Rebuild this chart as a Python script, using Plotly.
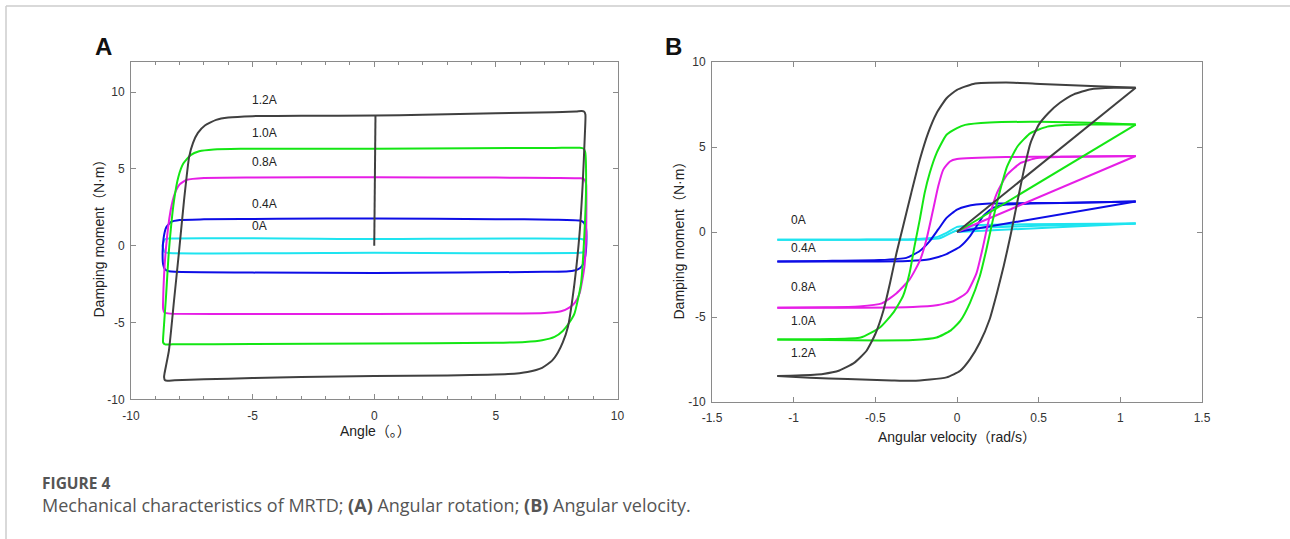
import plotly.graph_objects as go

W, H = 1290, 539

# ---------------- Panel A: angle vs damping moment ----------------
# 1.2 A: initial loading stroke (origin -> top) and the loop
a_x_12_start = [0, 0.05]
a_y_12_start = [0, 8.48]
a_x_12 = [0.05, 2, 5, 7.4, 8.3, 8.52, 8.62, 8.68, 8.66, 8.57, 8.44, 8.23, 7.96, 7.75, 7.55, 7.3, 6.9, 6.3, 5.5, 3, 0, -3, -5, -7, -8.2, -8.5, -8.6, -8.64, -8.62, -8.44, -8.23, -8.02, -7.82, -7.61, -7.45, -7.25, -6.95, -6.5, -6.0, -5, -3, 0.05]
a_y_12 = [8.48, 8.53, 8.63, 8.7, 8.74, 8.77, 8.74, 8.55, 7.31, 4.05, 0.79, -2.46, -5.29, -6.3, -6.95, -7.5, -7.95, -8.22, -8.36, -8.45, -8.48, -8.55, -8.62, -8.7, -8.76, -8.79, -8.76, -8.55, -8.3, -6.81, -3.55, -0.29, 2.96, 5.79, 6.7, 7.35, 7.85, 8.2, 8.35, 8.44, 8.47, 8.48]

a_x_10 = [0, 4, 7.41, 8.45, 8.6, 8.67, 8.71, 8.64, 8.5, 8.23, 8.0, 7.75, 7.41, 6.9, 6.2, 5, 0, -5, -8.3, -8.6, -8.68, -8.68, -8.57, -8.44, -8.23, -8.05, -7.85, -7.55, -7.2, -6.6, -5.5, 0]
a_y_10 = [6.32, 6.35, 6.37, 6.38, 6.33, 6.11, 4.05, 0.79, -2.46, -4.42, -5.05, -5.55, -5.94, -6.16, -6.27, -6.32, -6.36, -6.4, -6.42, -6.42, -6.3, -6.0, -3.55, -0.29, 2.96, 4.5, 5.35, 5.9, 6.15, 6.27, 6.31, 6.32]

a_x_08 = [0, 5, 7.41, 8.5, 8.65, 8.71, 8.71, 8.64, 8.44, 8.25, 8.0, 7.68, 7.0, 5, 0, -5, -8.4, -8.62, -8.68, -8.68, -8.57, -8.37, -8.2, -8.0, -7.7, -7.0, -5, 0]
a_y_08 = [4.46, 4.44, 4.42, 4.39, 4.3, 4.0, 0.79, -1.38, -3.11, -3.7, -4.05, -4.27, -4.38, -4.42, -4.44, -4.44, -4.42, -4.35, -4.1, -3.55, -0.29, 2.31, 3.4, 4.0, 4.3, 4.42, 4.45, 4.46]

a_x_04 = [0, 5, 7.41, 8.45, 8.62, 8.7, 8.72, 8.66, 8.55, 8.35, 8.0, 7.0, 0, -5, -8.2, -8.44, -8.6, -8.68, -8.7, -8.66, -8.55, -8.35, -8.0, -7.0, -4, 0]
a_y_04 = [1.77, 1.73, 1.7, 1.64, 1.5, 1.2, 0.14, -0.8, -1.3, -1.55, -1.66, -1.7, -1.77, -1.75, -1.7, -1.66, -1.55, -1.2, -0.4, 0.5, 1.2, 1.55, 1.68, 1.72, 1.76, 1.77]

a_x_00 = [0, 8.45, 8.62, 8.7, 8.62, 8.45, 0, -8.45, -8.62, -8.7, -8.62, -8.45, 0]
a_y_00 = [0.44, 0.45, 0.38, 0, -0.4, -0.46, -0.46, -0.47, -0.4, 0, 0.4, 0.47, 0.44]

# ---------------- Panel B: angular velocity vs damping moment ----------------
# each current: initial loading line (origin -> tip), upper (unloading) branch, lower branch
b_diag_x = [0, 1.094]
b_tip_12, b_tip_10, b_tip_08, b_tip_04, b_tip_00 = 8.49, 6.32, 4.47, 1.8, 0.5

b_up_x_12 = [1.094, 0.82, 0.51, 0.3, 0.1, 0, -0.064, -0.125, -0.177, -0.228, -0.28, -0.33, -0.37, -0.41, -0.45, -0.5, -0.555, -0.63, -0.72, -0.82, -0.98, -1.1]
b_up_y_12 = [8.49, 8.59, 8.71, 8.79, 8.71, 8.36, 7.87, 6.99, 5.82, 4.25, 2.3, 0.34, -1.22, -3.0, -4.6, -6.0, -7.0, -7.7, -8.15, -8.35, -8.44, -8.47]
b_lo_x_12 = [-1.1, -0.9, -0.67, -0.4, -0.27, -0.064, 0.02, 0.08, 0.14, 0.2, 0.245, 0.286, 0.327, 0.368, 0.41, 0.45, 0.5, 0.56, 0.63, 0.715, 0.82, 0.96, 1.094]
b_lo_y_12 = [-8.47, -8.57, -8.65, -8.73, -8.75, -8.55, -8.16, -7.48, -6.5, -5.13, -3.57, -2.0, -0.24, 1.71, 3.67, 5.23, 6.3, 7.0, 7.6, 8.1, 8.4, 8.48, 8.49]

b_up_x_10 = [1.094, 0.82, 0.51, 0.2, 0.05, 0, -0.064, -0.125, -0.167, -0.198, -0.228, -0.26, -0.29, -0.33, -0.39, -0.47, -0.59, -0.77, -1.1]
b_up_y_10 = [6.32, 6.42, 6.48, 6.44, 6.3, 6.11, 5.72, 4.64, 3.47, 2.3, 0.73, -0.83, -2.4, -3.76, -4.74, -5.6, -6.21, -6.3, -6.32]
b_lo_x_10 = [-1.1, -0.8, -0.47, -0.27, -0.125, -0.043, 0.02, 0.08, 0.14, 0.18, 0.22, 0.265, 0.307, 0.37, 0.45, 0.553, 0.636, 0.78, 1.094]
b_lo_y_10 = [-6.32, -6.36, -6.38, -6.36, -6.21, -5.82, -5.23, -4.15, -2.59, -1.03, 0.73, 2.49, 3.86, 5.03, 5.82, 6.2, 6.28, 6.32, 6.32]

b_up_x_08 = [1.094, 0.636, 0.3, 0, -0.043, -0.084, -0.115, -0.146, -0.187, -0.228, -0.29, -0.37, -0.46, -0.6, -0.8, -1.1]
b_up_y_08 = [4.47, 4.43, 4.41, 4.29, 4.15, 3.67, 2.69, 1.32, -0.44, -1.7, -2.79, -3.6, -4.2, -4.38, -4.43, -4.45]
b_lo_x_08 = [-1.1, -0.6, -0.27, -0.125, -0.02, 0.06, 0.12, 0.16, 0.2, 0.245, 0.307, 0.39, 0.49, 0.636, 1.094]
b_lo_y_08 = [-4.45, -4.45, -4.41, -4.31, -4.06, -3.57, -2.4, -0.83, 0.93, 2.3, 3.37, 4.06, 4.35, 4.42, 4.47]

b_up_x_04 = [1.094, 0.636, 0.2, 0.06, 0, -0.064, -0.115, -0.167, -0.228, -0.31, -0.475, -0.8, -1.1]
b_up_y_04 = [1.8, 1.71, 1.67, 1.52, 1.32, 0.83, 0.15, -0.54, -1.12, -1.52, -1.65, -1.7, -1.73]
b_lo_x_04 = [-1.1, -0.6, -0.3, -0.167, -0.064, 0.02, 0.08, 0.12, 0.16, 0.22, 0.3, 0.45, 0.636, 1.094]
b_lo_y_04 = [-1.73, -1.73, -1.7, -1.6, -1.3, -0.85, -0.24, 0.34, 0.93, 1.42, 1.61, 1.67, 1.71, 1.8]

b_up_x_00 = [1.094, 0.636, 0.2, 0.05, 0, -0.064, -0.125, -0.27, -0.6, -1.1]
b_up_y_00 = [0.5, 0.47, 0.42, 0.36, 0.3, -0.05, -0.3, -0.42, -0.45, -0.46]
b_lo_x_00 = [-1.1, -0.6, -0.2, -0.1, 0, 0.14, 0.35, 0.636, 1.094]
b_lo_y_00 = [-0.46, -0.46, -0.44, -0.35, 0.1, 0.25, 0.32, 0.4, 0.5]

labels = ["0A", "0.4A", "0.8A", "1.0A", "1.2A"]
colors = ["#1ee4f0", "#0d0de6", "#e61ee6", "#14e614", "#404040"]

a_label_x = [-5.1, -5.1, -5.1, -5.1, -5.1]
a_label_y = [1.27, 2.75, 5.44, 7.32, 9.48]
b_label_x = [-1.03, -1.03, -1.03, -1.03, -1.03]
b_label_y = [0.73, -0.97, -3.26, -5.25, -7.13]

a_loops = [(a_x_00, a_y_00), (a_x_04, a_y_04), (a_x_08, a_y_08), (a_x_10, a_y_10), (a_x_12, a_y_12)]
b_tips = [b_tip_00, b_tip_04, b_tip_08, b_tip_10, b_tip_12]
b_upper = [(b_up_x_00, b_up_y_00), (b_up_x_04, b_up_y_04), (b_up_x_08, b_up_y_08), (b_up_x_10, b_up_y_10), (b_up_x_12, b_up_y_12)]
b_lower = [(b_lo_x_00, b_lo_y_00), (b_lo_x_04, b_lo_y_04), (b_lo_x_08, b_lo_y_08), (b_lo_x_10, b_lo_y_10), (b_lo_x_12, b_lo_y_12)]

a_xticks = [-10, -5, 0, 5, 10]
a_xminor = [-9, -8, -7, -6, -4, -3, -2, -1, 1, 2, 3, 4, 6, 7, 8, 9]
a_yticks = [-10, -5, 0, 5, 10]
b_xticks = [-1.5, -1, -0.5, 0, 0.5, 1, 1.5]
b_yticks = [-10, -5, 0, 5, 10]

FONT = "Liberation Sans, Arial, Noto Sans CJK SC, sans-serif"
CAP_FONT = "Open Sans, Lato, sans-serif"

fig = go.Figure()


def add_line(xs, ys, color, xa, ya, spline=True):
    fig.add_trace(go.Scatter(
        x=xs, y=ys, mode="lines", xaxis=xa, yaxis=ya, showlegend=False, hoverinfo="skip",
        line=dict(color=color, width=2, shape="spline" if spline else "linear", smoothing=0.5)))


for (xs, ys), c in zip(a_loops, colors):
    add_line(xs, ys, c, "x", "y")
add_line(a_x_12_start, a_y_12_start, colors[4], "x", "y", spline=False)

for tip, (ux, uy), (lx, ly), c in zip(b_tips, b_upper, b_lower, colors):
    add_line(b_diag_x, [0, tip], c, "x2", "y2", spline=False)
    add_line(ux, uy, c, "x2", "y2")
    add_line(lx, ly, c, "x2", "y2")


def tick_text(vals):
    return [("%g" % v) for v in vals]


axis_common = dict(showgrid=False, zeroline=False, showline=True, linecolor="#8a8a8a", linewidth=1,
                   mirror="ticks", ticks="inside", ticklen=5, tickcolor="#8a8a8a", tickwidth=1,
                   automargin=False, fixedrange=True,
                   tickfont=dict(family=FONT, size=12, color="#333333"))

fig.update_layout(
    template="none",
    width=W, height=H,
    margin=dict(l=0, r=0, t=0, b=0, pad=0, autoexpand=False),
    paper_bgcolor="white", plot_bgcolor="white",
    xaxis=dict(domain=[131 / W, 617.5 / W], range=[-10, 10], anchor="y",
               tickvals=a_xticks, ticktext=tick_text(a_xticks), ticklabelstandoff=5,
               minor=dict(tickvals=a_xminor, ticks="inside", ticklen=3, tickcolor="#8a8a8a"),
               **axis_common),
    yaxis=dict(domain=[1 - 399.3 / H, 1 - 61.5 / H], range=[-10, 12], anchor="x",
               tickvals=a_yticks, ticktext=tick_text(a_yticks), ticklabelstandoff=3, **axis_common),
    xaxis2=dict(domain=[712 / W, 1202 / W], range=[-1.5, 1.5], anchor="y2",
                tickvals=b_xticks, ticktext=tick_text(b_xticks), ticklabelstandoff=5, **axis_common),
    yaxis2=dict(domain=[1 - 402 / H, 1 - 62 / H], range=[-10, 10], anchor="x2",
                tickvals=b_yticks, ticktext=tick_text(b_yticks), ticklabelstandoff=3, **axis_common),
)

ann = []
for t, x, y in zip(labels, a_label_x, a_label_y):
    ann.append(dict(text=t, x=x, y=y, xref="x", yref="y", showarrow=False, xanchor="left", yanchor="middle",
                    font=dict(family=FONT, size=12, color="#222222")))
for t, x, y in zip(labels, b_label_x, b_label_y):
    ann.append(dict(text=t, x=x, y=y, xref="x2", yref="y2", showarrow=False, xanchor="left", yanchor="middle",
                    font=dict(family=FONT, size=12, color="#222222")))


def paper_text(text, px, py, size, family=FONT, color="#222222", angle=0, xanchor="center"):
    return dict(text=text, x=px / W, y=1 - py / H, xref="paper", yref="paper", showarrow=False,
                xanchor=xanchor, yanchor="middle", textangle=angle,
                font=dict(family=family, size=size, color=color))


ann += [
    paper_text("<b>A</b>", 103, 47, 24, color="#111111"),
    paper_text("<b>B</b>", 673, 47, 24, color="#111111"),
    paper_text("Damping moment（N·m）", 98, 235.5, 14, angle=-90),
    paper_text("Damping moment（N·m）", 678, 237.5, 14, angle=-90),
    paper_text("Angle（。）", 375, 431, 14),
    paper_text("Angular velocity（rad/s）", 957, 437, 14),
    paper_text("<b>FIGURE 4</b>", 40, 482.5, 15.5, family=CAP_FONT, color="#555555", xanchor="left"),
    paper_text("Mechanical characteristics of MRTD; <b>(A)</b> Angular rotation; <b>(B)</b> Angular velocity.",
               40, 505, 18, family=CAP_FONT, color="#555555", xanchor="left"),
]
fig.update_layout(annotations=ann)

fig.update_layout(shapes=[
    dict(type="line", xref="paper", yref="paper", x0=6 / W, x1=1, y0=1 - 6 / H, y1=1 - 6 / H,
         line=dict(color="#cccccc", width=1.5)),
    dict(type="line", xref="paper", yref="paper", x0=6 / W, x1=6 / W, y0=0, y1=1 - 6 / H,
         line=dict(color="#cccccc", width=1.5)),
])

fig.write_html("out.html", config={"displayModeBar": False, "responsive": False},
               post_script="document.body.style.margin='0';document.body.style.overflow='hidden';")
